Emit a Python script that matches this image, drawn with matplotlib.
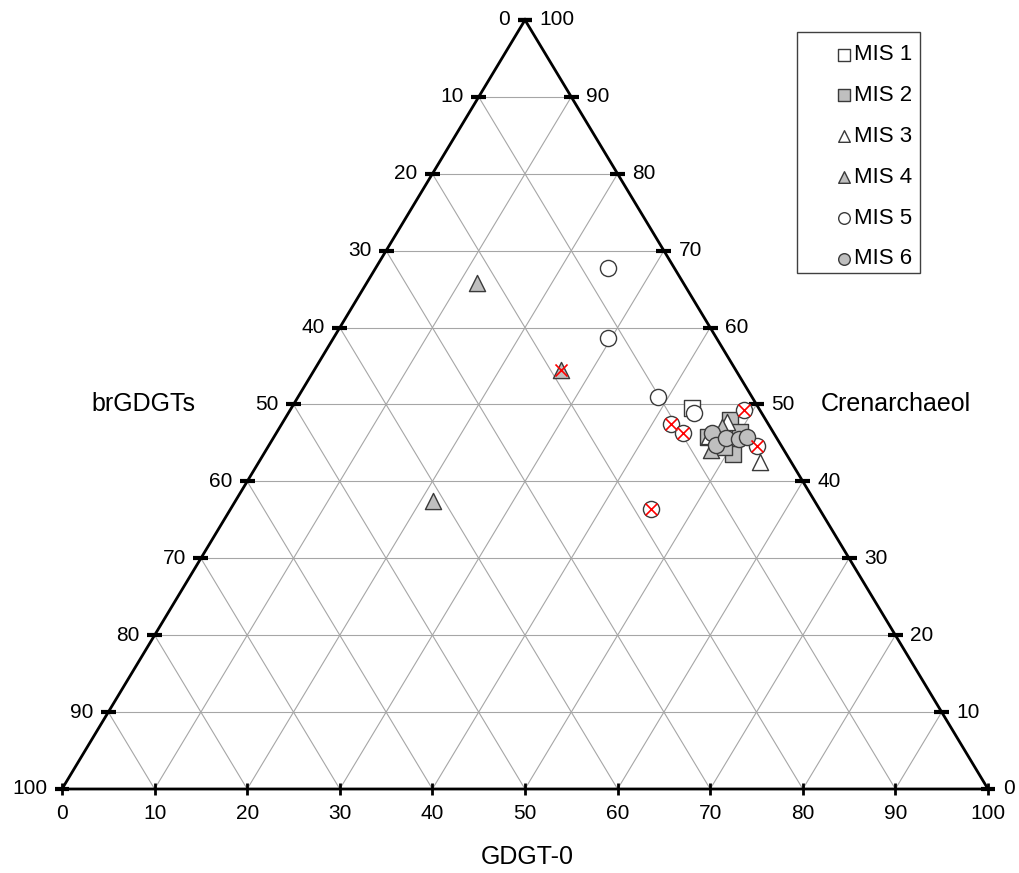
import matplotlib
matplotlib.use("Agg")
import matplotlib.pyplot as plt
from matplotlib.patches import Rectangle
import numpy as np

plt.rcParams['font.family'] = ['Liberation Sans', 'DejaVu Sans']

# ternary data: GDGT-0 (%), Crenarchaeol (%); brGDGTs = 100 - both
mis1_g = [43.2]
mis1_c = [49.6]
mis2_g = [48.1, 50.7, 46.9, 49.25, 50.0]
mis2_c = [48.0, 43.6, 45.8, 44.5, 46.4]
mis3_g = [54.1, 48.0, 46.9]
mis3_c = [42.5, 47.7, 45.9]
mis4_g = [11.9, 21.3, 26.6, 48.0, 47.7]
mis4_c = [65.8, 37.5, 54.5, 44.1, 47.1]
mis5_g = [25.1, 29.7, 38.9, 43.8, 49.0, 42.05, 43.95, 52.75, 45.4]
mis5_c = [67.7, 58.6, 51.0, 48.9, 49.3, 47.5, 46.3, 44.6, 36.4]
mis6_g = [47.05, 48.25, 48.9, 50.35, 51.1]
mis6_c = [46.3, 44.7, 45.6, 45.5, 45.8]
# samples flagged with a red cross
flag_g = [26.6, 49.0, 42.05, 43.95, 52.75, 45.4]
flag_c = [54.5, 49.3, 47.5, 46.3, 44.6, 36.4]

levels = list(range(10, 100, 10))


def to_xy(g, c):
    g = np.asarray(g, float)
    c = np.asarray(c, float)
    return g + c / 2.0, c


fig = plt.figure(figsize=(10.2, 8.73), dpi=100)
ax = fig.add_axes([0, 0, 1, 1])
ax.set_xlim(-62 / 9.26, 100 + 32 / 9.26)
ax.set_ylim(-84 / 7.69, 100 + 20 / 7.69)
ax.axis('off')

grid_kw = dict(color='#a6a6a6', lw=0.8, zorder=1)
for k in levels:
    # constant crenarchaeol
    ax.plot([k / 2, 100 - k / 2], [k, k], **grid_kw)
    # constant GDGT-0
    ax.plot([k, k + (100 - k) / 2], [0, 100 - k], **grid_kw)
    # constant brGDGTs
    ax.plot([100 - k, (100 - k) / 2], [0, 100 - k], **grid_kw)

# outline
ax.plot([0, 100, 50, 0], [0, 0, 100, 0], color='black', lw=2, zorder=2,
        solid_joinstyle='miter')

fs = 15
dx = 0.8
for k in range(0, 101, 10):
    # left side: brGDGTs, label = 100 - c
    xl = k / 2
    ax.plot([xl - dx, xl + dx], [k, k], color='black', lw=3, zorder=3,
            solid_capstyle='butt')
    ax.text(xl - 1.6, k, str(100 - k), ha='right', va='center', fontsize=fs)
    # right side: crenarchaeol
    xr = 100 - k / 2
    ax.plot([xr - dx, xr + dx], [k, k], color='black', lw=3, zorder=3,
            solid_capstyle='butt')
    ax.text(xr + 1.6, k, str(k), ha='left', va='center', fontsize=fs)
    # bottom: GDGT-0
    ax.plot([k, k], [-0.8, 0.8], color='black', lw=2, zorder=3,
            solid_capstyle='butt')
    ax.text(k, -2.0, str(k), ha='center', va='top', fontsize=fs)

ax.text(3.2, 50.0, 'brGDGTs', ha='left', va='center', fontsize=18)
ax.text(81.9, 50.0, 'Crenarchaeol', ha='left', va='center', fontsize=18)
ax.text(50.2, -8.8, 'GDGT-0', ha='center', va='center', fontsize=18)

grey = '#bfbfbf'
edge = '#3a3a3a'
ms = 135
series = [
    (mis1_g, mis1_c, 's', 'white', 'MIS 1'),
    (mis2_g, mis2_c, 's', grey, 'MIS 2'),
    (mis3_g, mis3_c, '^', 'white', 'MIS 3'),
    (mis4_g, mis4_c, '^', grey, 'MIS 4'),
    (mis5_g, mis5_c, 'o', 'white', 'MIS 5'),
    (mis6_g, mis6_c, 'o', grey, 'MIS 6'),
]
for g, c, m, fc, lab in series:
    x, y = to_xy(g, c)
    ax.scatter(x, y, s=ms, marker=m, facecolor=fc, edgecolor=edge,
               linewidth=1.0, zorder=4, label=lab)

fx, fy = to_xy(flag_g, flag_c)
ax.scatter(fx, fy, s=75, marker='x', color='red', linewidth=1.2, zorder=5)

# legend box drawn by hand so the entries can sit off-centre like the original
ax.add_patch(Rectangle((797 / 1020, 1 - 273 / 873), 123 / 1020, 241 / 873,
                       transform=fig.transFigure, facecolor='white',
                       edgecolor='#404040', lw=1.0, zorder=6, clip_on=False))
leg = ax.legend(loc='upper left', bbox_to_anchor=(837 / 1020, 1 - 44.5 / 873),
                bbox_transform=fig.transFigure, frameon=False, fontsize=16,
                markerscale=0.72, handlelength=0.6, handletextpad=0.15,
                labelspacing=0.89, borderpad=0, borderaxespad=0,
                scatterpoints=1)
leg.set_zorder(7)

fig.savefig('out.png', dpi=100)
